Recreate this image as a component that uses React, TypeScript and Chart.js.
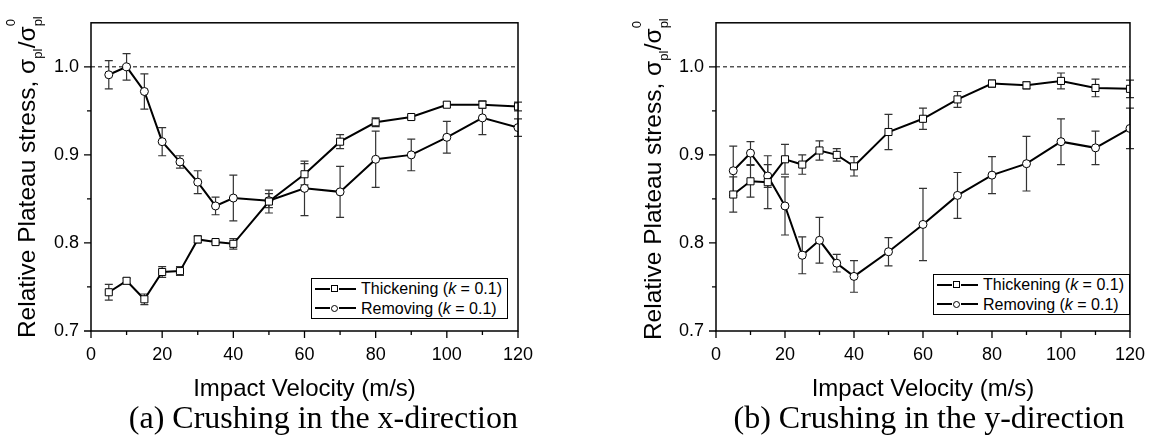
import React, { useEffect, useRef } from 'react';
import { Chart, registerables } from 'chart.js';

Chart.register(...registerables);

// ---------------- data ----------------
const VELOCITY = [5, 10, 15, 20, 25, 30, 35, 40, 50, 60, 70, 80, 90, 100, 110, 120];

// (a) Crushing in the x-direction
const A_THICK = [0.744, 0.757, 0.736, 0.767, 0.768, 0.804, 0.801, 0.799, 0.847, 0.878, 0.915, 0.937, 0.943, 0.957, 0.957, 0.955];
const A_THICK_ERR = [0.009, 0.003, 0.006, 0.006, 0.005, 0.004, 0.002, 0.006, 0.013, 0.012, 0.008, 0.005, 0.002, 0.003, 0.004, 0.005];
const A_REMOVE = [0.991, 1.0, 0.972, 0.915, 0.892, 0.869, 0.842, 0.851, 0.848, 0.862, 0.858, 0.895, 0.9, 0.92, 0.942, 0.931];
const A_REMOVE_ERR = [0.016, 0.015, 0.02, 0.016, 0.007, 0.013, 0.01, 0.026, 0.008, 0.031, 0.029, 0.032, 0.018, 0.018, 0.019, 0.01];

// (b) Crushing in the y-direction
const B_THICK = [0.855, 0.87, 0.869, 0.895, 0.889, 0.905, 0.9, 0.887, 0.926, 0.941, 0.963, 0.981, 0.979, 0.984, 0.976, 0.975];
const B_THICK_ERR = [0.02, 0.018, 0.03, 0.017, 0.011, 0.011, 0.007, 0.011, 0.02, 0.012, 0.009, 0.004, 0.004, 0.009, 0.01, 0.01];
const B_REMOVE = [0.882, 0.902, 0.876, 0.842, 0.786, 0.803, 0.777, 0.762, 0.79, 0.821, 0.854, 0.877, 0.89, 0.915, 0.908, 0.93];
const B_REMOVE_ERR = [0.028, 0.013, 0.013, 0.033, 0.021, 0.026, 0.01, 0.018, 0.016, 0.041, 0.026, 0.021, 0.031, 0.026, 0.019, 0.023];

const REF_X = [0, 120];
const REF_Y = [1.0, 1.0];

const X_LABELS = [0, 20, 40, 60, 80, 100, 120];
const X_MINOR = [10, 30, 50, 70, 90, 110];
const Y_LABELS = [0.7, 0.8, 0.9, 1.0];
const Y_MINOR = [0.75, 0.85, 0.95];

const SERIES_NAMES = ['Thickening', 'Removing'];
const K_VALUE = '0.1';
const X_TITLE = 'Impact Velocity (m/s)';
const CAPTIONS = ['(a) Crushing in the x-direction', '(b) Crushing in the y-direction'];

const SANS = '"Liberation Sans", Arial, Helvetica, sans-serif';
const SERIF = '"Liberation Serif", "Times New Roman", serif';

// ---------------- plugins ----------------
const framePlugin = {
  id: 'frame',
  afterDraw(chart: any) {
    const { ctx, chartArea: a } = chart;
    const x = chart.scales.x;
    const y = chart.scales.y;
    ctx.save();
    ctx.strokeStyle = '#000';
    ctx.lineWidth = 1.5;
    ctx.strokeRect(a.left, a.top, a.right - a.left, a.bottom - a.top);
    ctx.lineWidth = 1.3;
    ctx.beginPath();
    for (const v of X_LABELS) {
      const px = x.getPixelForValue(v);
      ctx.moveTo(px, a.bottom);
      ctx.lineTo(px, a.bottom + 7);
    }
    for (const v of X_MINOR) {
      const px = x.getPixelForValue(v);
      ctx.moveTo(px, a.bottom);
      ctx.lineTo(px, a.bottom + 4);
    }
    for (const v of Y_LABELS) {
      const py = y.getPixelForValue(v);
      ctx.moveTo(a.left, py);
      ctx.lineTo(a.left - 7, py);
    }
    for (const v of Y_MINOR) {
      const py = y.getPixelForValue(v);
      ctx.moveTo(a.left, py);
      ctx.lineTo(a.left - 4, py);
    }
    ctx.stroke();
    ctx.restore();
  },
};

function makeErrorPlugin(sets: { values: number[]; errors: number[] }[]) {
  return {
    id: 'errorBars',
    beforeDatasetsDraw(chart: any) {
      const { ctx } = chart;
      const x = chart.scales.x;
      const y = chart.scales.y;
      ctx.save();
      ctx.strokeStyle = '#333';
      ctx.lineWidth = 1.2;
      for (const s of sets) {
        s.values.forEach((v, i) => {
          const e = s.errors[i];
          const px = x.getPixelForValue(VELOCITY[i]);
          const top = y.getPixelForValue(v + e);
          const bot = y.getPixelForValue(v - e);
          ctx.beginPath();
          ctx.moveTo(px, top);
          ctx.lineTo(px, bot);
          ctx.moveTo(px - 4, top);
          ctx.lineTo(px + 4, top);
          ctx.moveTo(px - 4, bot);
          ctx.lineTo(px + 4, bot);
          ctx.stroke();
        });
      }
      ctx.restore();
    },
  };
}

// ---------------- components ----------------
type PanelProps = {
  left: number;
  thick: number[];
  thickErr: number[];
  remove: number[];
  removeErr: number[];
  yAxisWidth: number;
  padRight: number;
};

const CW = 579;
const CH = 439;

function Panel({ left, thick, thickErr, remove, removeErr, yAxisWidth, padRight }: PanelProps) {
  const ref = useRef<HTMLCanvasElement>(null);
  useEffect(() => {
    const chart = new Chart(ref.current as HTMLCanvasElement, {
      type: 'line',
      data: {
        datasets: [
          {
            label: 'reference',
            data: REF_X.map((x, i) => ({ x, y: REF_Y[i] })),
            borderColor: '#000',
            borderWidth: 1,
            borderDash: [4, 3],
            pointRadius: 0,
            order: 3,
          },
          {
            label: SERIES_NAMES[0],
            data: VELOCITY.map((x, i) => ({ x, y: thick[i] })),
            borderColor: '#000',
            borderWidth: 2,
            pointStyle: 'rect',
            pointRadius: 5,
            pointBackgroundColor: '#fff',
            pointBorderColor: '#000',
            pointBorderWidth: 1,
            order: 1,
          },
          {
            label: SERIES_NAMES[1],
            data: VELOCITY.map((x, i) => ({ x, y: remove[i] })),
            borderColor: '#000',
            borderWidth: 2,
            pointStyle: 'circle',
            pointRadius: 4,
            pointBackgroundColor: '#fff',
            pointBorderColor: '#000',
            pointBorderWidth: 1,
            order: 2,
          },
        ],
      } as any,
      options: {
        responsive: false,
        animation: false,
        layout: { padding: { left: 0, right: padRight, top: 19, bottom: 0 } },
        plugins: { legend: { display: false }, tooltip: { enabled: false } },
        scales: {
          x: {
            type: 'linear',
            min: 0,
            max: 120,
            afterFit: (s: any) => {
              s.height = CH - 331;
            },
            grid: { display: false, drawTicks: false },
            border: { display: false },
            ticks: {
              stepSize: 20,
              padding: 13,
              color: '#000',
              font: { family: SANS, size: 18 },
              maxRotation: 0,
              callback: (v: any) => String(v),
            },
            title: {
              display: true,
              text: X_TITLE,
              color: '#000',
              font: { family: SANS, size: 24 },
              padding: { top: 0, bottom: 35 },
            },
          },
          y: {
            type: 'linear',
            min: 0.7,
            max: 1.05,
            afterFit: (s: any) => {
              s.width = yAxisWidth;
            },
            grid: { display: false, drawTicks: false },
            border: { display: false },
            ticks: {
              stepSize: 0.1,
              padding: 12,
              color: '#000',
              font: { family: SANS, size: 18 },
              callback: (v: any) =>
                Y_LABELS.some((t) => Math.abs(t - v) < 1e-6) ? Number(v).toFixed(1) : null,
            },
          },
        },
      } as any,
      plugins: [
        makeErrorPlugin([
          { values: thick, errors: thickErr },
          { values: remove, errors: removeErr },
        ]),
        framePlugin,
      ],
    });
    return () => chart.destroy();
  }, []);
  return (
    <canvas
      ref={ref}
      width={CW}
      height={CH}
      style={{ position: 'absolute', left, top: 0, width: CW, height: CH }}
    />
  );
}

function Script({ sub, sup }: { sub: string; sup?: string }) {
  return (
    <span style={{ display: 'inline-block', position: 'relative', width: 10.5, height: 1 }}>
      {sup && (
        <span style={{ position: 'absolute', left: 0, top: -30, fontSize: 13, lineHeight: '13px' }}>{sup}</span>
      )}
      <span style={{ position: 'absolute', left: 0, top: -3, fontSize: 13, lineHeight: '13px' }}>{sub}</span>
    </span>
  );
}

function YTitle({ cx, cy }: { cx: number; cy: number }) {
  const W = 420;
  return (
    <div
      style={{
        position: 'absolute',
        left: cx - W / 2,
        top: cy - 14,
        width: W,
        height: 28,
        lineHeight: '28px',
        textAlign: 'center',
        whiteSpace: 'nowrap',
        fontFamily: SANS,
        fontSize: 24.5,
        color: '#000',
        transform: 'rotate(-90deg)',
        transformOrigin: '50% 50%',
      }}
    >
      Relative Plateau stress, σ<Script sub="pl" />/σ<Script sub="pl" sup="0" />
    </div>
  );
}

function LegendRow({ marker, name }: { marker: 'square' | 'circle'; name: string }) {
  return (
    <div style={{ display: 'flex', alignItems: 'center', height: 19.5 }}>
      <span style={{ display: 'inline-block', width: 15, height: 2, background: '#000' }} />
      <span
        style={{
          display: 'inline-block',
          width: 7,
          height: 7,
          boxSizing: 'border-box',
          border: '1px solid #000',
          borderRadius: marker === 'circle' ? '50%' : 0,
          margin: '0 1px',
        }}
      />
      <span style={{ display: 'inline-block', width: 17, height: 2, background: '#000' }} />
      <span style={{ marginLeft: 5 }}>
        {name} (<i>k</i> = {K_VALUE})
      </span>
    </div>
  );
}

function Legend({ left, top }: { left: number; top: number }) {
  return (
    <div
      style={{
        position: 'absolute',
        left,
        top,
        width: 197,
        height: 41,
        boxSizing: 'border-box',
        border: '1px solid #000',
        background: '#fff',
        fontFamily: SANS,
        fontSize: 16,
        color: '#000',
        padding: '0 0 0 3px',
        lineHeight: '19px',
      }}
    >
      <LegendRow marker="square" name={SERIES_NAMES[0]} />
      <LegendRow marker="circle" name={SERIES_NAMES[1]} />
    </div>
  );
}

function Caption({ cx, text }: { cx: number; text: string }) {
  return (
    <div
      style={{
        position: 'absolute',
        left: cx - 300,
        top: 401,
        width: 600,
        textAlign: 'center',
        fontFamily: SERIF,
        fontSize: 32,
        lineHeight: '32px',
        color: '#000',
        whiteSpace: 'nowrap',
      }}
    >
      {text}
    </div>
  );
}

export default function App() {
  return (
    <div style={{ position: 'absolute', left: 0, top: 0, width: 1158, height: 439, background: '#fff', overflow: 'hidden' }}>
      <Panel left={0} thick={A_THICK} thickErr={A_THICK_ERR} remove={A_REMOVE} removeErr={A_REMOVE_ERR} yAxisWidth={91} padRight={61} />
      <Panel left={579} thick={B_THICK} thickErr={B_THICK_ERR} remove={B_REMOVE} removeErr={B_REMOVE_ERR} yAxisWidth={137} padRight={19} />
      <YTitle cx={26.7} cy={176.7} />
      <YTitle cx={653.4} cy={178.5} />
      <Legend left={311} top={278} />
      <Legend left={933} top={274} />
      <Caption cx={323.4} text={CAPTIONS[0]} />
      <Caption cx={929} text={CAPTIONS[1]} />
    </div>
  );
}
